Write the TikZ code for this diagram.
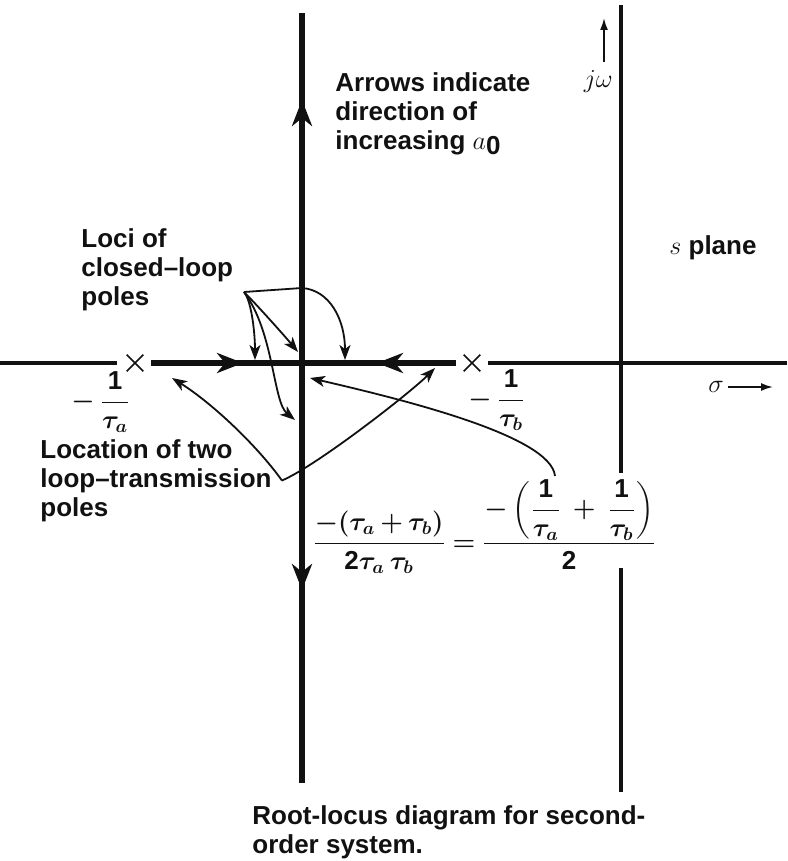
\RequirePackage{fix-cm}
\documentclass[tikz,border=0pt]{standalone}
\usepackage{amsmath}
\usepackage{fontspec}
\setmainfont{Liberation Sans}
\usepackage{tikz}
\usepackage{xcolor}
\usetikzlibrary{arrows.meta, shapes.misc, positioning, calc}
\definecolor{Ink}{HTML}{111111}
\newcommand{\tightmath}{\medmuskip=3mu\relax\thickmuskip=4mu\relax}

\begin{document}
\begin{tikzpicture}[x=0.5pt, y=-0.5pt,
    axisthin/.style={draw=Ink, line width=1.8pt},
    locusline/.style={draw=Ink, line width=3.2pt},
    locustip/.style={locusline, -{Stealth[length=13pt, width=10pt, inset=4pt]}},
    pointer/.style={draw=Ink, line width=0.9pt, -{Stealth[length=7.5pt, width=5.5pt, inset=2pt]}},
    axisarrow/.style={draw=Ink, line width=0.9pt, -{Latex[length=6pt, width=4pt]}},
    polemark/.style={cross out, draw=Ink, line width=0.8pt, minimum size=7.5pt, inner sep=0pt},
    note/.style={font=\fontsize{13}{14.5}\selectfont\bfseries, text=Ink, align=left, inner sep=0pt},
    mathnote/.style={note, font=\fontsize{13}{14.5}\selectfont\bfseries\boldmath\tightmath},
    symb/.style={font=\fontsize{13}{14.5}\selectfont, text=Ink, inner sep=0pt}]
        \useasboundingbox (0,0) rectangle (787,861);

        % imaginary axes
        \coordinate (O) at (302,363);
        \coordinate (imTop) at (302,13);
        \coordinate (imBot) at (302,783);
        \coordinate (upTip) at (302,100);
        \coordinate (downTip) at (302,590);
        \draw[locusline] (imTop) -- (imBot);
        \draw[locustip] (O) -- (upTip);
        \draw[locustip] (O) -- (downTip);

        \coordinate (jwTop) at (621,5);
        \coordinate (jwGapA) at (621,473);
        \coordinate (jwGapB) at (621,568);
        \coordinate (jwBot) at (621,792);
        \draw[axisthin] (jwTop) -- (jwGapA) (jwGapB) -- (jwBot);

        % real axis and the two poles
        \coordinate (reLeft) at (0,363);
        \coordinate (reRight) at (787,363);
        \node[polemark] (pA) at (135,363) {};
        \node[polemark] (pB) at (472,363) {};
        \draw[axisthin] (reLeft) -- ([xshift=-5pt]pA.west);
        \draw[axisthin] ([xshift=4pt]pB.east) -- (reRight);
        \draw[locusline] ([xshift=4pt]pA.east) -- ([xshift=-4pt]pB.west);
        \coordinate (rTip) at (243,363);
        \coordinate (lTip) at (377,363);
        \draw[locustip] ([xshift=4pt]pA.east) -- (rTip);
        \draw[locustip] ([xshift=-4pt]pB.west) -- (lTip);

        \node[mathnote] (pAlab) at (101,402) {$-\,\dfrac{\text{1}}{\tau_a}$};
        \node[mathnote] (pBlab) at (497,400) {$-\,\dfrac{\text{1}}{\tau_b}$};

        \node[symb] (sigmaLab) at (716,387) {$\sigma$};
        \coordinate (sigmaTip) at (773,387);
        \draw[axisarrow] ([xshift=2pt]sigmaLab.east) -- (sigmaTip);

        \node[symb, anchor=east] (jwLab) at (613,82) {$j\omega$};
        \coordinate (jwArrTail) at (604,62);
        \coordinate (jwArrTip) at (604,18);
        \draw[axisarrow] (jwArrTail) -- (jwArrTip);

        \node[note, anchor=west] (sPlane) at (669,248) {$s$ plane};

        \node[note, anchor=north west] (arrowNote) at (335,72)
          {Arrows indicate\\direction of\\increasing $a$\raisebox{-0.4ex}{0}};

        % closed-loop pole pointers
        \node[note, anchor=north west] (lociNote) at (81,228) {Loci of\\closed--loop\\poles};
        \coordinate (lociSrc) at (244,292);
        \coordinate (lociT1) at (255,360);
        \coordinate (lociT2) at (298,352);
        \coordinate (lociT3) at (295,420);
        \coordinate (lociJ) at (302,288);
        \coordinate (lociT4) at (345,360);
        \draw[pointer] (lociSrc) .. controls +(8,10) and +(0,-25) .. (lociT1);
        \draw[pointer] (lociSrc) .. controls +(12,12) and +(-15,-18) .. (lociT2);
        \draw[pointer] (lociSrc) .. controls +(30,40) and +(-22,-18) .. (lociT3);
        \draw[pointer] (lociSrc) -- (lociJ) .. controls +(28,2) and +(0,-40) .. (lociT4);

        % open-loop pole pointers
        \node[note, anchor=north west] (locNote) at (40,439) {Location of two\\loop--transmission\\poles};
        \coordinate (locTail) at ([xshift=5pt]locNote.east);
        \coordinate (locT1) at (172,378);
        \coordinate (locT2) at (435,368);
        \draw[pointer] (locTail) .. controls +(-25,-35) and +(40,25) .. (locT1);
        \draw[pointer] (locTail) .. controls +(35,-15) and +(-25,25) .. (locT2);

        % break-away point
        \node[mathnote, anchor=base west] (rootVal) at (312,550)
          {$\dfrac{-(\tau_a+\tau_b)}{\text{2}\tau_a\,\tau_b} = \dfrac{-\left(\dfrac{\text{1}}{\tau_a}\;+\;\dfrac{\text{1}}{\tau_b}\right)}{\text{2}}$};
        \coordinate (valTail) at (555,476);
        \coordinate (valT) at (310,378);
        \draw[pointer] (valTail) .. controls +(-4,-40) and +(95,22) .. (valT);

        \node[note, anchor=north west] (caption) at (252,805)
          {Root-locus diagram for second-\\order system.};
\end{tikzpicture}
\end{document}
